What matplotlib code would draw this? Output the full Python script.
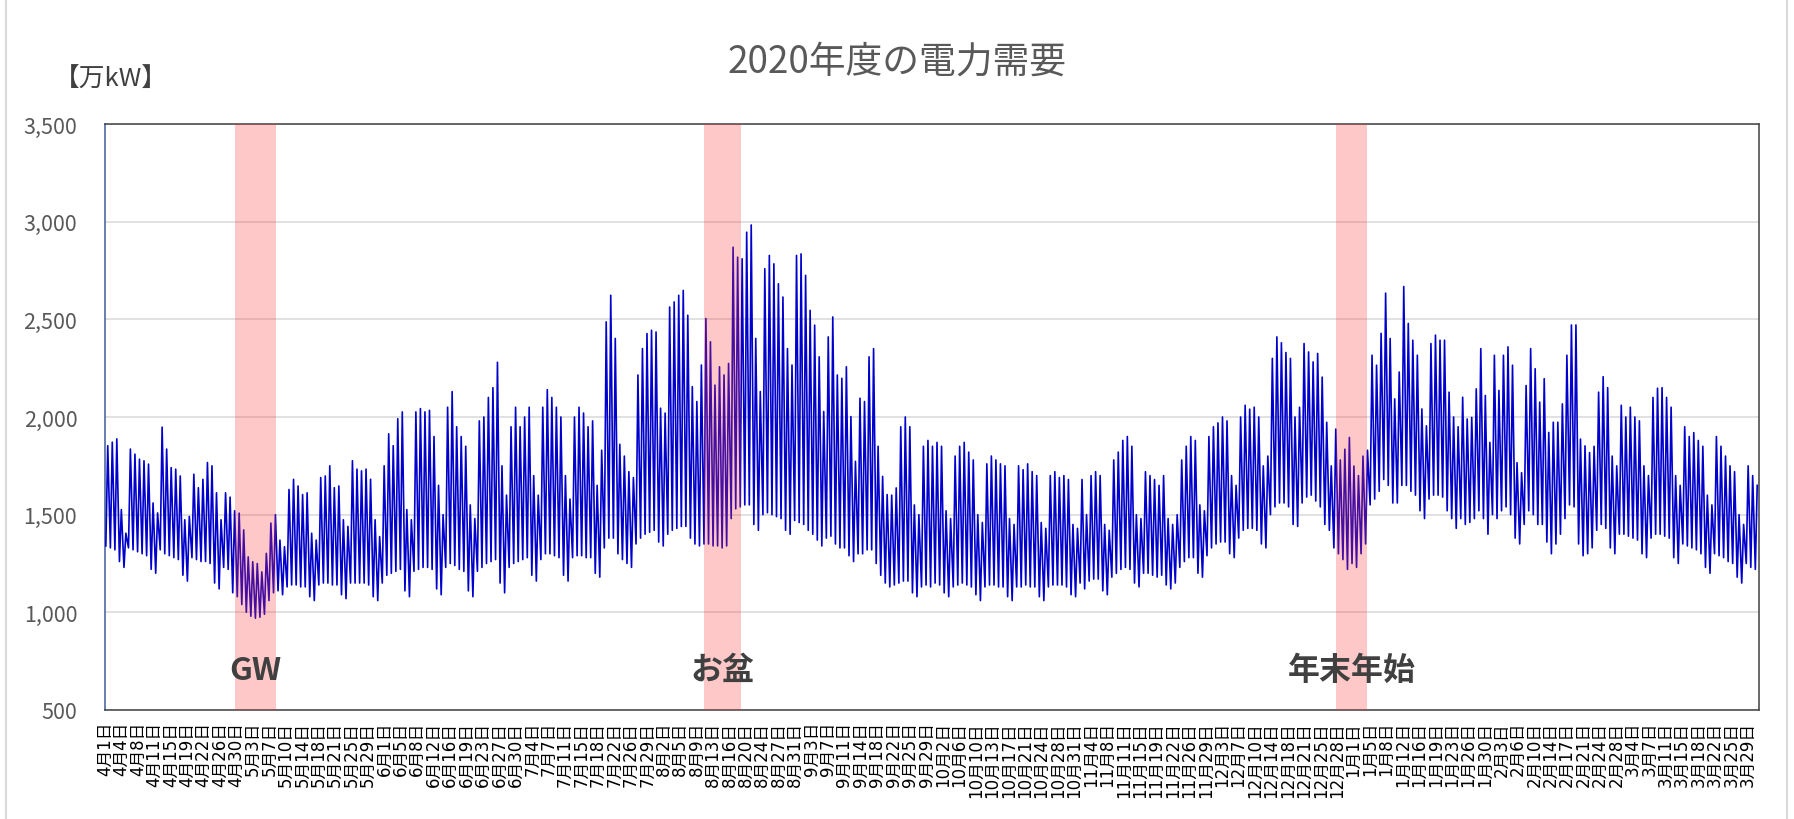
import matplotlib
matplotlib.use("Agg")
import matplotlib.pyplot as plt
import numpy as np

plt.rcParams['font.family'] = ['Noto Sans CJK JP', 'DejaVu Sans']

# ---- data (万kW): daily minimum and maximum, FY2020 (Apr 1 2020 - Mar 31 2021) ----
MAX_APR = [1853,1871,1888,1526,1405,1836,1810,1784,1776,1759,1560,1509,1948,1836,1741,1733,1698,1474,1491,1707,
           1638,1681,1767,1750,1612,1474,1612,1590,1520,1508]
MIN_APR = [1340,1330,1320,1260,1230,1330,1320,1310,1300,1290,1220,1200,1320,1300,1290,1280,1270,1190,1160,1280,
           1270,1260,1260,1250,1150,1120,1230,1220,1100,1080]
MAX_MAY = [1422,1284,1259,1250,1207,1302,1457,1500,1370,1336,1629,1681,1647,1603,1612,1405,1370,1690,1698,1750,
           1638,1647,1474,1440,1776,1733,1724,1733,1681,1474,1388]
MIN_MAY = [1040,1000,980,970,975,990,1060,1100,1110,1090,1130,1140,1140,1130,1130,1080,1060,1140,1150,1150,
           1140,1140,1090,1070,1150,1150,1150,1150,1140,1080,1060]
MAX_JUN = [1750,1914,1853,1991,2026,1526,1474,2026,2043,2026,2034,1900,1650,1500,2050,2130,1950,1900,1850,1550,
           1480,1980,2000,2100,2150,2280,1750,1600,1950,2050]
MIN_JUN = [1150,1190,1200,1210,1220,1110,1080,1210,1220,1230,1230,1220,1120,1090,1230,1250,1240,1220,1210,1110,
           1080,1210,1230,1250,1260,1270,1150,1100,1230,1250]
MAX_JUL = [1950,2000,2050,1700,1600,2050,2140,2100,2050,2000,1700,1580,2000,2050,2020,1950,1980,1650,1830,2487,
           2623,2402,1860,1800,1720,1690,2215,2350,2427,2444,2435]
MIN_JUL = [1260,1270,1280,1190,1160,1270,1300,1300,1290,1280,1190,1160,1280,1290,1290,1280,1280,1200,1180,1330,
           1380,1380,1300,1270,1250,1230,1350,1380,1400,1410,1420]
MAX_AUG = [2045,2020,2563,2589,2623,2648,2521,2155,2079,2266,2504,2385,2163,2257,2215,2274,2869,2818,2810,2946,
           2983,2402,2130,2759,2827,2784,2682,2614,2350,2266,2827]
MIN_AUG = [1360,1340,1400,1420,1430,1440,1440,1380,1350,1340,1350,1350,1340,1340,1330,1340,1480,1530,1540,1550,
           1550,1450,1420,1500,1510,1500,1490,1480,1420,1400,1470]
MAX_SEP = [2835,2725,2546,2470,2308,2028,2410,2512,2215,2198,2257,2002,1773,2096,2079,2308,2350,1850,1696,1603,
           1600,1637,1950,2000,1950,1550,1500,1850,1880,1850]
MIN_SEP = [1460,1450,1420,1400,1370,1340,1380,1390,1350,1330,1330,1290,1260,1300,1300,1320,1320,1250,1190,1150,
           1130,1140,1150,1160,1160,1100,1080,1130,1140,1130]
MAX_OCT = [1870,1850,1520,1480,1800,1850,1870,1820,1780,1500,1460,1760,1800,1780,1760,1750,1480,1450,1750,1730,
           1760,1720,1700,1460,1430,1700,1720,1690,1700,1680,1450]
MIN_OCT = [1150,1140,1100,1080,1130,1140,1150,1140,1130,1090,1060,1130,1140,1140,1130,1130,1080,1060,1130,1130,
           1140,1130,1130,1080,1060,1130,1140,1140,1140,1130,1090]
MAX_NOV = [1430,1680,1500,1700,1720,1700,1450,1420,1780,1820,1880,1900,1850,1500,1480,1720,1700,1680,1650,1700,
           1480,1450,1500,1780,1850,1900,1880,1550,1520,1900]
MIN_NOV = [1080,1150,1120,1160,1170,1170,1110,1090,1180,1200,1220,1230,1220,1150,1130,1200,1200,1190,1180,1190,
           1140,1120,1150,1230,1260,1280,1280,1200,1180,1290]
MAX_DEC = [1950,1970,2000,1980,1700,1650,2000,2060,2040,2050,2000,1750,1800,2300,2410,2380,2330,2300,2000,2050,
           2376,2333,2282,2325,2204,1973,1750,1938,1780,1835,1895]
MIN_DEC = [1330,1350,1360,1360,1300,1280,1380,1420,1430,1430,1420,1350,1330,1500,1540,1560,1560,1540,1450,1440,
           1560,1590,1600,1570,1540,1450,1420,1330,1300,1270,1220]
MAX_JAN = [1749,1700,1800,1830,2316,2265,2428,2634,2402,2093,2230,2668,2479,2393,2316,2041,1955,2376,2419,2393,
           2393,2127,2000,1950,2101,1990,1998,2144,2350,2110,1870]
MIN_JAN = [1250,1230,1300,1350,1550,1580,1620,1680,1650,1560,1560,1650,1650,1620,1600,1520,1480,1580,1600,1600,
           1590,1520,1480,1430,1480,1450,1460,1480,1520,1480,1400]
MAX_FEB = [2316,2136,2316,2359,2265,1766,1715,2161,2350,2247,2076,2196,1921,1973,1973,2067,2316,2471,2471,1887,
           1852,1818,1850,2127,2206,2150,1800,1750]
MIN_FEB = [1500,1480,1520,1540,1500,1380,1350,1450,1520,1500,1450,1450,1360,1300,1350,1400,1480,1550,1540,1350,
           1290,1300,1330,1420,1450,1430,1330,1300]
MAX_MAR = [2060,2000,2050,2000,1980,1750,1700,2100,2147,2150,2100,2050,1700,1650,1950,1900,1920,1880,1850,1600,
           1550,1900,1850,1800,1750,1720,1500,1450,1750,1700,1650]
MIN_MAR = [1400,1400,1390,1380,1370,1300,1280,1380,1400,1400,1390,1380,1280,1250,1350,1340,1330,1320,1300,1230,
           1200,1300,1290,1280,1260,1250,1180,1150,1250,1230,1220]

DAILY_MAX = (MAX_APR + MAX_MAY + MAX_JUN + MAX_JUL + MAX_AUG + MAX_SEP +
             MAX_OCT + MAX_NOV + MAX_DEC + MAX_JAN + MAX_FEB + MAX_MAR)
DAILY_MIN = (MIN_APR + MIN_MAY + MIN_JUN + MIN_JUL + MIN_AUG + MIN_SEP +
             MIN_OCT + MIN_NOV + MIN_DEC + MIN_JAN + MIN_FEB + MIN_MAR)

# hour of day at which the daily minimum / maximum occurs
HOUR_MIN = 4
HOUR_MAX = 14

# highlighted periods (hour index from Apr 1 00:00) and their labels
PERIOD_LABELS = ["GW", "お盆", "年末年始"]
PERIOD_START_H = [688, 3172, 6519]
PERIOD_END_H = [906, 3368, 6684]
LABEL_Y = 706

TICK_STEP_H = 87
TICK_LABELS = ["4月1日","4月4日","4月8日","4月11日","4月15日","4月19日","4月22日","4月26日","4月30日",
               "5月3日","5月7日","5月10日","5月14日","5月18日","5月21日","5月25日","5月29日",
               "6月1日","6月5日","6月8日","6月12日","6月16日","6月19日","6月23日","6月27日","6月30日",
               "7月4日","7月7日","7月11日","7月15日","7月18日","7月22日","7月26日","7月29日",
               "8月2日","8月5日","8月9日","8月13日","8月16日","8月20日","8月24日","8月27日","8月31日",
               "9月3日","9月7日","9月11日","9月14日","9月18日","9月22日","9月25日","9月29日",
               "10月2日","10月6日","10月10日","10月13日","10月17日","10月21日","10月24日","10月28日","10月31日",
               "11月4日","11月8日","11月11日","11月15日","11月19日","11月22日","11月26日","11月29日",
               "12月3日","12月7日","12月10日","12月14日","12月18日","12月21日","12月25日","12月28日",
               "1月1日","1月5日","1月8日","1月12日","1月16日","1月19日","1月23日","1月26日","1月30日",
               "2月3日","2月6日","2月10日","2月14日","2月17日","2月21日","2月24日","2月28日",
               "3月4日","3月7日","3月11日","3月15日","3月18日","3月22日","3月25日","3月29日"]

Y_TICKS = [500, 1000, 1500, 2000, 2500, 3000, 3500]
N_HOURS = 8760

# ---- build line points (min then max each day) ----
xs, ys = [], []
for d, (lo, hi) in enumerate(zip(DAILY_MIN, DAILY_MAX)):
    xs += [24 * d + HOUR_MIN + 0.5, 24 * d + HOUR_MAX + 0.5]
    ys += [lo, hi]

W, H = 1794, 820
fig = plt.figure(figsize=(W / 100, H / 100), dpi=100)
ax = fig.add_axes([105 / W, 1 - 711 / H, (1759 - 105) / W, (711 - 125) / H])

ax.plot(xs, ys, color='#0000CC', lw=1.2, zorder=3)

for s, e in zip(PERIOD_START_H, PERIOD_END_H):
    ax.axvspan(s, e, color=(1.0, 0.204, 0.204), alpha=0.27, lw=0, zorder=4)
for lab, s, e in zip(PERIOD_LABELS, PERIOD_START_H, PERIOD_END_H):
    ax.text((s + e) / 2, LABEL_Y, lab, ha='center', va='center', fontsize=23,
            fontweight='bold', color='#404040', zorder=5)

ax.set_xlim(0, N_HOURS)
ax.set_ylim(Y_TICKS[0], Y_TICKS[-1])
ax.set_yticks(Y_TICKS)
ax.set_yticklabels([f"{v:,}" for v in Y_TICKS], fontsize=15.5, color='#595959')
ax.grid(axis='y', color='#D9D9D9', lw=1.1, zorder=0)
ax.set_axisbelow(True)

tick_pos = [TICK_STEP_H * k + 0.5 for k in range(len(TICK_LABELS))]
ax.set_xticks(tick_pos)
ax.set_xticklabels(TICK_LABELS, rotation=90, fontsize=12, color='#000000',
                   ha='center', va='top', family=['DejaVu Sans', 'Noto Sans CJK JP'])
ax.tick_params(axis='x', length=0, pad=8)
ax.tick_params(axis='y', length=0, pad=20)

for sp in ['top', 'right', 'bottom']:
    ax.spines[sp].set_color('#404040')
    ax.spines[sp].set_linewidth(1.1)
ax.spines['left'].set_color('#3F5B9A')
ax.spines['left'].set_linewidth(1.1)

fig.text(0.5, 1 - 62 / H, "2020年度の電力需要", ha='center', va='center',
         fontsize=26.5, color='#595959')
fig.text(54 / W, 1 - 80 / H, "【万kW】", ha='left', va='center',
         fontsize=18.5, color='#404040')

# outer chart border
fig.add_artist(plt.Line2D([6 / W, 6 / W], [0, 1], transform=fig.transFigure,
                          color='#D9D9D9', lw=1.5))
fig.add_artist(plt.Line2D([1787 / W, 1787 / W], [0, 1], transform=fig.transFigure,
                          color='#D9D9D9', lw=1.5))

fig.savefig("out.png", dpi=100, facecolor='white')
